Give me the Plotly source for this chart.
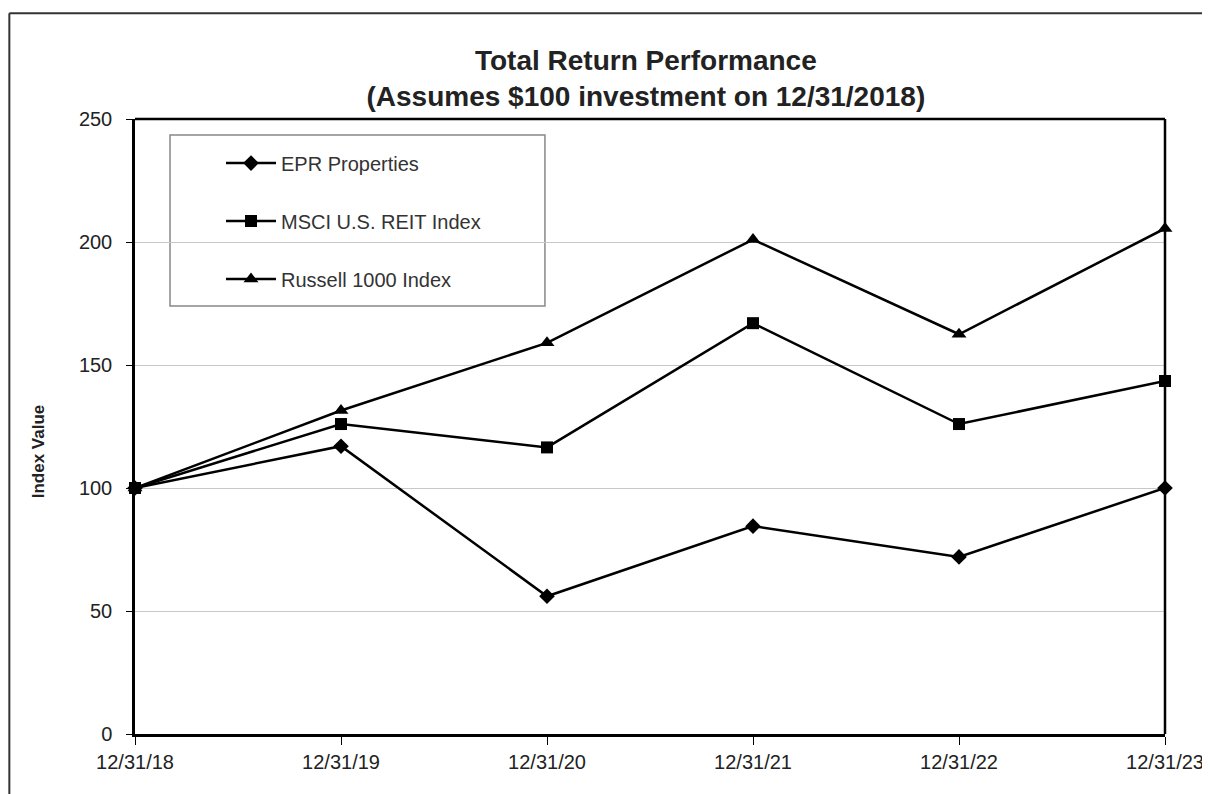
import plotly.graph_objects as go

dates = ["12/31/18", "12/31/19", "12/31/20", "12/31/21", "12/31/22", "12/31/23"]
epr = [100, 117, 56, 84.5, 72, 100]
msci = [100, 126, 116.5, 167, 126, 143.5]
russell = [100, 131.5, 159, 201, 162.5, 205.5]
y_ticks = [0, 50, 100, 150, 200, 250]

FONT = "Arial, Liberation Sans, sans-serif"

fig = go.Figure()
series = [
    ("EPR Properties", epr, "diamond", 12),
    ("MSCI U.S. REIT Index", msci, "square", 12),
    ("Russell 1000 Index", russell, "triangle-up", 13),
]
for i, (name, vals, sym, sz) in enumerate(series):
    fig.add_trace(go.Scatter(
        x=dates, y=vals, name=name, mode="lines+markers",
        line=dict(color="black", width=2.5),
        marker=dict(symbol=sym, size=sz, color="black"),
        legendgroup=f"g{i}",
        cliponaxis=False,
    ))

fig.update_layout(
    width=1202, height=786,
    margin=dict(l=127, r=45, t=111, b=60, autoexpand=False),
    paper_bgcolor="white", plot_bgcolor="white",
    font=dict(family=FONT, color="#222222", size=20),
    title=dict(
        text="<b>Total Return Performance<br>(Assumes $100 investment on 12/31/2018)</b>",
        x=0.496, xref="paper", xanchor="center",
        y=0.921, yref="container", yanchor="top",
        font=dict(size=28, family=FONT, color="#222222"),
    ),
    showlegend=True,
    legend=dict(
        x=0.0835, y=0.960, xanchor="left", yanchor="top",
        bgcolor="rgba(0,0,0,0)", borderwidth=0,
        font=dict(size=20, color="#333333"), tracegroupgap=29,
        itemwidth=50,
    ),
    xaxis=dict(
        type="category", range=[0, 5],
        showgrid=False, showline=True, linecolor="black", linewidth=2.5,
        ticks="outside", ticklen=8, tickcolor="black", tickwidth=1,
        zeroline=False, automargin=False,
        tickfont=dict(size=20),
    ),
    yaxis=dict(
        range=[0, 250], tickvals=y_ticks,
        showgrid=True, gridcolor="#c8c8c8", gridwidth=1,
        showline=True, linecolor="black", linewidth=2.5,
        ticks="outside", ticklen=6, tickcolor="black",
        ticklabelstandoff=10,
        zeroline=False, automargin=False,
        tickfont=dict(size=20),
    ),
    annotations=[dict(
        text="<b>Index Value</b>", textangle=-90,
        xref="paper", yref="paper", x=-0.094, y=0.46,
        xanchor="center", yanchor="middle", showarrow=False,
        font=dict(size=17, color="#222222", family=FONT),
    )],
)

# legend box
fig.add_shape(type="rect", xref="paper", yref="paper",
              x0=0.034, x1=0.398, y0=0.696, y1=0.974,
              fillcolor="white", line=dict(color="#888888", width=1.5), layer="between")
# plot frame top and right
fig.add_shape(type="line", xref="paper", yref="paper", x0=0, x1=1, y0=1, y1=1,
              line=dict(color="black", width=2.5))
fig.add_shape(type="line", xref="paper", yref="paper", x0=1, x1=1, y0=0, y1=1,
              line=dict(color="black", width=2.5))
# outer border (top and left)
fig.add_shape(type="line", xref="paper", yref="paper", x0=-0.122, x1=1.05, y0=1.172, y1=1.172,
              line=dict(color="#333333", width=2))
fig.add_shape(type="line", xref="paper", yref="paper", x0=-0.122, x1=-0.122, y0=-0.1, y1=1.172,
              line=dict(color="#333333", width=2))

fig.write_html("out.html")
